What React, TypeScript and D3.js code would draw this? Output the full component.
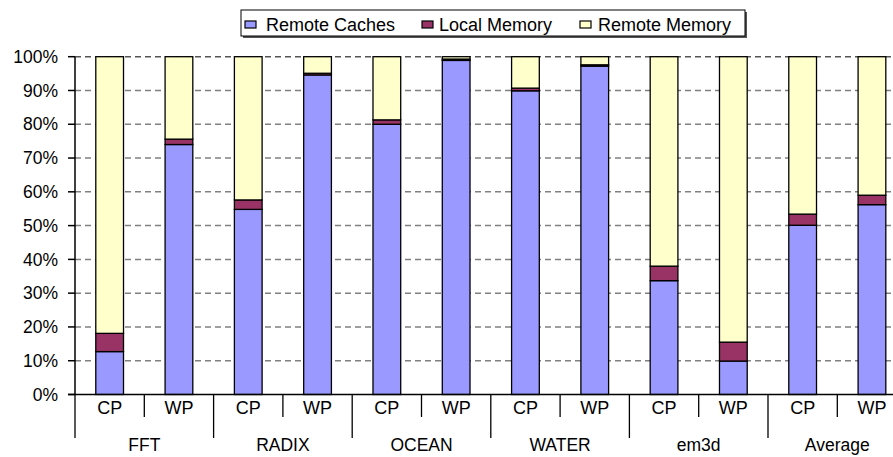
import React from "react";
import * as d3 from "d3";

const groups = ["FFT", "RADIX", "OCEAN", "WATER", "em3d", "Average"];
const modes = ["CP", "WP"];
const seriesNames = ["Remote Caches", "Local Memory", "Remote Memory"];
const remoteCaches = [12.7, 74.0, 54.8, 94.6, 80.0, 98.9, 89.9, 97.2, 33.7, 9.9, 50.1, 56.2];
const localMemory = [5.4, 1.6, 2.8, 0.5, 1.3, 0.4, 0.8, 0.4, 4.3, 5.6, 3.3, 2.8];
const remoteMemory = remoteCaches.map((v, i) => 100 - v - localMemory[i]);
const yTicks = [0, 10, 20, 30, 40, 50, 60, 70, 80, 90, 100];
const colors = ["#9999FF", "#993366", "#FFFFCC"];

const W = 893;
const H = 457;
const left = 75;
const step = 69.3;
const right = left + step * 12;
const top = 56.7;
const bottom = 394.5;
const FONT = "Liberation Sans, Arial, sans-serif";

export default function App() {
  const keys = groups.flatMap((g) => modes.map((m) => `${g}-${m}`));
  const x = d3.scaleBand<string>().domain(keys).range([left, right]).paddingInner(0.6).paddingOuter(0.3);
  const y = d3.scaleLinear().domain([0, 100]).range([bottom, top]);
  const rows = keys.map((k, i) => ({ key: k, rc: remoteCaches[i], lm: localMemory[i], rm: remoteMemory[i] }));
  const stack = d3.stack<any>().keys(["rc", "lm", "rm"])(rows);

  const legendItems = [
    { sx: 245, tx: 266 },
    { sx: 422, tx: 439 },
    { sx: 580, tx: 598 },
  ];

  return (
    <svg width={W} height={H} style={{ position: "absolute", left: 0, top: 0, background: "#fff" }} fontFamily={FONT}>
      {/* gridlines */}
      {yTicks.filter((t) => t > 0).map((t) => (
        <line key={t} x1={left} x2={W} y1={y(t)} y2={y(t)} stroke={t === 100 ? "#555" : "#808080"} strokeWidth={1.5} strokeDasharray="6,4" />
      ))}
      {/* y axis */}
      <line x1={left} x2={left} y1={top} y2={bottom} stroke="#000" strokeWidth={1.5} />
      {yTicks.map((t) => (
        <g key={t}>
          <line x1={68} x2={left} y1={y(t)} y2={y(t)} stroke="#000" strokeWidth={1.5} />
          <text x={58} y={y(t)} dy="0.35em" textAnchor="end" fontSize={17.5} fill="#000">{t}%</text>
        </g>
      ))}
      {/* bars */}
      {stack.map((s, si) =>
        s.map((d, i) => (
          <rect key={`${si}-${i}`} x={x(keys[i])} width={x.bandwidth()} y={y(d[1])} height={y(d[0]) - y(d[1])}
            fill={colors[si]} stroke="#000" strokeWidth={1.3} />
        ))
      )}
      {/* x axis */}
      <line x1={68} x2={W} y1={bottom} y2={bottom} stroke="#000" strokeWidth={1.5} />
      {d3.range(0, 13).map((k) => (
        <line key={k} x1={left + k * step} x2={left + k * step} y1={bottom} y2={k % 2 === 0 ? 438 : 417} stroke="#000" strokeWidth={1.3} />
      ))}
      {keys.map((k, i) => (
        <text key={k} x={(x(k) as number) + x.bandwidth() / 2} y={414} textAnchor="middle" fontSize={18} fill="#000">{modes[i % 2]}</text>
      ))}
      {groups.map((g, gi) => (
        <text key={g} x={left + step * (2 * gi + 1)} y={451} textAnchor="middle" fontSize={17.5} fill="#000">{g}</text>
      ))}
      {/* legend */}
      <rect x={243} y={12} width={504} height={26} fill="#555" />
      <rect x={241} y={10} width={504} height={26} fill="#fff" stroke="#000" strokeWidth={1} />
      {seriesNames.map((n, i) => (
        <g key={n}>
          <rect x={legendItems[i].sx} y={21} width={11} height={7} fill={colors[i]} stroke="#000" strokeWidth={1.2} />
          <text x={legendItems[i].tx} y={30.5} fontSize={18} fill="#000">{n}</text>
        </g>
      ))}
    </svg>
  );
}
